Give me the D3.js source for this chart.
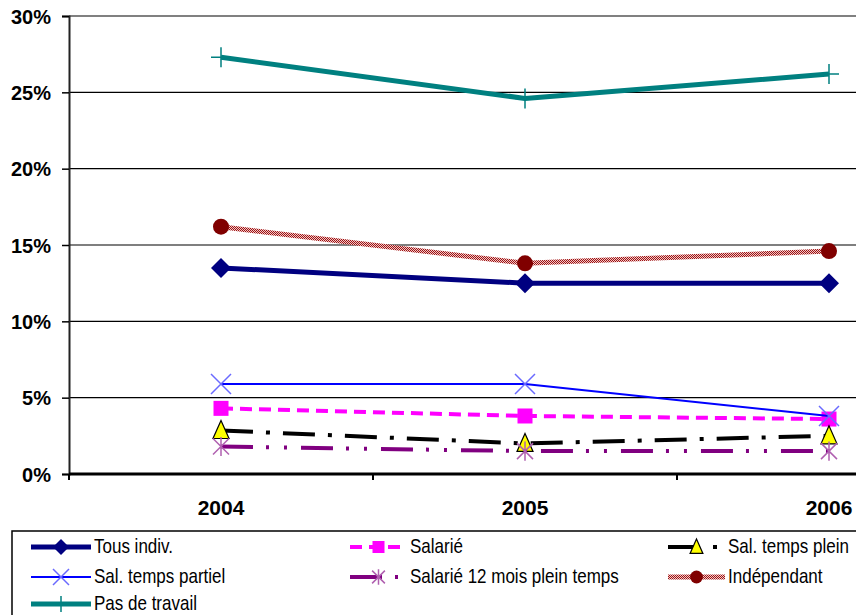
<!DOCTYPE html>
<html>
<head>
<meta charset="utf-8">
<script src="https://cdn.jsdelivr.net/npm/d3@7/dist/d3.min.js"></script>
<style>
  html, body { margin: 0; padding: 0; background: #fff; }
  svg { display: block; }
  .axis-label { font-family: "Liberation Sans", Arial, sans-serif; font-weight: bold; fill: #000; }
  .legend-text { font-family: "Liberation Sans", Arial, sans-serif; font-size: 21px; fill: #000; }
</style>
</head>
<body>
<svg id="chart" width="856" height="615"></svg>
<script>
// Years on the category axis
const years = ["2004", "2005", "2006"];

// Share (%) per group and year
const tousIndiv        = [13.5, 12.5, 12.5];
const salarie          = [4.3, 3.8, 3.6];
const salTempsPlein    = [2.85, 2.0, 2.5];
const salTempsPartiel  = [5.9, 5.9, 3.8];
const salarie12Mois    = [1.8, 1.5, 1.5];
const independant      = [16.2, 13.8, 14.6];
const pasDeTravail     = [27.3, 24.6, 26.2];

// Y axis tick values and their labels
const yTicks = [0, 5, 10, 15, 20, 25, 30];
const yTickLabels = ["0%", "5%", "10%", "15%", "20%", "25%", "30%"];

// Legend labels (row-major order)
const seriesNames = ["Tous indiv.", "Salarié", "Sal. temps plein", "Sal. temps partiel",
                     "Salarié 12 mois plein temps", "Indépendant", "Pas de travail"];

const series = [
  { name: seriesNames[0], values: tousIndiv,       stroke: "#000080", width: 5,   dash: null,               marker: "diamond" },
  { name: seriesNames[1], values: salarie,         stroke: "#ff00ff", width: 4,   dash: "12,7",             marker: "square" },
  { name: seriesNames[2], values: salTempsPlein,   stroke: "#000000", width: 4,   dash: "32,13,4,13",       marker: "triangle" },
  { name: seriesNames[3], values: salTempsPartiel, stroke: "#0000ff", width: 2,   dash: null,               marker: "x" },
  { name: seriesNames[4], values: salarie12Mois,   stroke: "#800080", width: 4,   dash: "32,13,3,15,3,14",  marker: "star" },
  { name: seriesNames[5], values: independant,     stroke: "url(#hatchRed)", width: 5, dash: null,          marker: "circle" },
  { name: seriesNames[6], values: pasDeTravail,    stroke: "#008080", width: 5,   dash: null,               marker: "plus" }
];

const svg = d3.select("#chart");

// Checkered dark-red paint used by the "Indépendant" line
const defs = svg.append("defs");
const pat = defs.append("pattern")
  .attr("id", "hatchRed").attr("patternUnits", "userSpaceOnUse")
  .attr("width", 2).attr("height", 2);
pat.append("rect").attr("width", 2).attr("height", 2).attr("fill", "#eecaca");
pat.append("rect").attr("width", 1).attr("height", 1).attr("fill", "#a01010");
pat.append("rect").attr("x", 1).attr("y", 1).attr("width", 1).attr("height", 1).attr("fill", "#a01010");

// Plot area (runs past the right edge of the window)
const plot = { left: 69, right: 981, top: 16, bottom: 474 };

const x = d3.scaleBand().domain(years).range([plot.left, plot.right]).paddingInner(0).paddingOuter(0);
const y = d3.scaleLinear().domain([0, 30]).range([plot.bottom, plot.top]);
const cx = d => x(d) + x.bandwidth() / 2;

// Horizontal gridlines
svg.append("g").selectAll("line")
  .data(yTicks.filter(t => t > 0 && t < 30))
  .join("line")
  .attr("x1", plot.left).attr("x2", 856)
  .attr("y1", d => y(d)).attr("y2", d => y(d))
  .attr("stroke", "#000").attr("stroke-width", 1.2);

// Top border
svg.append("line")
  .attr("x1", plot.left).attr("x2", 856)
  .attr("y1", y(30)).attr("y2", y(30))
  .attr("stroke", "#808080").attr("stroke-width", 2);

// Y axis
const yAxis = d3.axisLeft(y).tickValues(yTicks).tickSize(7).tickPadding(11)
  .tickFormat((d, i) => yTickLabels[i]);
const gy = svg.append("g").attr("transform", `translate(${plot.left},0)`).call(yAxis);
gy.attr("font-family", null);
gy.select(".domain").attr("stroke", "#222").attr("stroke-width", 2);
gy.selectAll(".tick line").attr("stroke", "#000").attr("stroke-width", 1.5);
gy.selectAll(".tick text").attr("class", "axis-label").style("font-size", "20px")
  .attr("dy", "0.36em");

// X axis: ticks at category boundaries, labels under category centres
const gx = svg.append("g").attr("transform", `translate(0,${plot.bottom})`);
gx.append("line").attr("x1", plot.left).attr("x2", 856).attr("y1", 0).attr("y2", 0)
  .attr("stroke", "#000").attr("stroke-width", 3);
gx.selectAll(".bt").data(years).join("line").attr("class", "bt")
  .attr("x1", d => x(d)).attr("x2", d => x(d)).attr("y1", 0).attr("y2", 6)
  .attr("stroke", "#000").attr("stroke-width", 2);
gx.selectAll("text").data(years).join("text")
  .attr("class", "axis-label").style("font-size", "21px")
  .attr("x", d => cx(d)).attr("y", 41).attr("text-anchor", "middle")
  .text(d => d);

// Marker shapes
function drawMarker(g, type, px, py, scale) {
  const s = scale || 1;
  if (type === "diamond") {
    const r = 10 * s;
    g.append("path").attr("d", `M${px},${py - r}L${px + r},${py}L${px},${py + r}L${px - r},${py}Z`)
      .attr("fill", "#000080");
  } else if (type === "square") {
    const h = 7.5 * s;
    g.append("rect").attr("x", px - h).attr("y", py - h).attr("width", 2 * h).attr("height", 2 * h)
      .attr("fill", "#ff00ff");
  } else if (type === "triangle") {
    const w = 8 * s, h = 10 * s;
    g.append("path").attr("d", `M${px},${py - h}L${px + w},${py + h * 0.8}L${px - w},${py + h * 0.8}Z`)
      .attr("fill", "#ffff00").attr("stroke", "#000").attr("stroke-width", 1.2);
  } else if (type === "x") {
    const r = 10 * s;
    g.append("path").attr("d", `M${px - r},${py - r}L${px + r},${py + r}M${px - r},${py + r}L${px + r},${py - r}`)
      .attr("stroke", "#6a6aff").attr("stroke-width", 1.5).attr("fill", "none");
  } else if (type === "star") {
    const r = 8 * s;
    g.append("path").attr("d",
      `M${px - r},${py - r}L${px + r},${py + r}M${px - r},${py + r}L${px + r},${py - r}M${px},${py - r * 1.2}L${px},${py + r * 1.2}`)
      .attr("stroke", "#b060b0").attr("stroke-width", 1.5).attr("fill", "none");
  } else if (type === "circle") {
    g.append("circle").attr("cx", px).attr("cy", py).attr("r", 8 * s).attr("fill", "#800000");
  } else if (type === "plus") {
    const r = 10 * s;
    g.append("path").attr("d", `M${px - r},${py}L${px + r},${py}M${px},${py - r}L${px},${py + r}`)
      .attr("stroke", "#008080").attr("stroke-width", 1.5).attr("fill", "none");
  }
}

// Series lines and markers
const line = d3.line().x((d, i) => cx(years[i])).y(d => y(d));
series.forEach(s => {
  const g = svg.append("g");
  g.append("path").datum(s.values).attr("d", line)
    .attr("fill", "none").attr("stroke", s.stroke).attr("stroke-width", s.width)
    .attr("stroke-dasharray", s.dash).attr("stroke-linejoin", "round");
  s.values.forEach((v, i) => drawMarker(g, s.marker, cx(years[i]), y(v)));
});

// Legend
const legend = svg.append("g");
legend.append("rect").attr("x", 12).attr("y", 531).attr("width", 860).attr("height", 100)
  .attr("fill", "#fff").attr("stroke", "#000").attr("stroke-width", 1.5);
const colX = [31, 350, 668];
const textX = [94, 410, 728];
const rowY = [547, 577, 604];
const narrow = 0.81; // horizontal squeeze for the condensed legend lettering
series.forEach((s, i) => {
  const c = i % 3, r = Math.floor(i / 3);
  const g = legend.append("g");
  const x0 = colX[c], x1 = textX[c] - 3, yy = rowY[r];
  g.append("line").attr("x1", x0).attr("x2", x1).attr("y1", yy).attr("y2", yy)
    .attr("stroke", s.stroke).attr("stroke-width", s.width)
    .attr("stroke-dasharray", s.dash);
  drawMarker(g, s.marker, (x0 + x1) / 2, yy, 0.8);
  g.append("text").attr("class", "legend-text")
    .attr("transform", `translate(${textX[c]},${yy + 6}) scale(${narrow},1)`)
    .text(s.name);
});
</script>
</body>
</html>
